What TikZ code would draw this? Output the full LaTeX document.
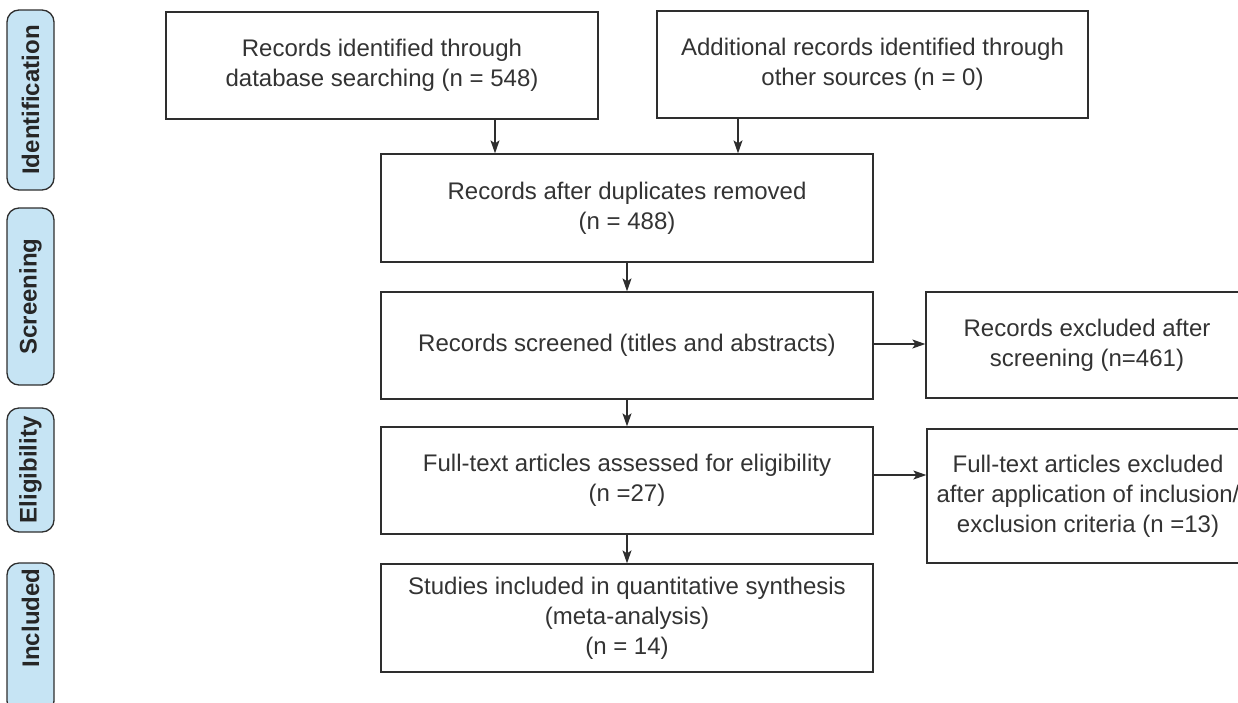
\documentclass[tikz,border=0pt]{standalone}
\usepackage{fontspec}
\setmainfont{Liberation Sans}
\usetikzlibrary{arrows.meta,calc}
\definecolor{lineg}{HTML}{2E2E2E}
\definecolor{textg}{HTML}{333333}
\definecolor{phasebl}{HTML}{C6E4F4}
\begin{document}
\begin{tikzpicture}[x=1pt,y=-1pt,
  box/.style={draw=lineg, line width=1.3pt, inner sep=0pt, align=center, text=textg,
    font=\fontsize{24}{30}\selectfont},
  phasebox/.style={draw=lineg, line width=1.3pt, fill=phasebl, rounded corners=12pt,
    rotate=90, minimum height=47pt, inner sep=0pt},
  phasetext/.style={rotate=90, inner sep=0pt, text=black!85,
    font=\bfseries\fontsize{24}{28}\selectfont},
  arr/.style={draw=lineg, line width=1.2pt, -{Stealth[length=13pt,width=9pt,inset=3pt]}}]
\useasboundingbox (0,0) rectangle (1238,702);

% phase labels
\node[phasebox, minimum width=180pt] (pid) at (30.5,100) {};
\node[phasetext] (tid) at (pid.center) {Identification};
\node[phasebox, minimum width=177pt] (psc) at (30.5,296.5) {};
\node[phasetext] (tsc) at (psc.center) {Screening};
\node[phasebox, minimum width=124pt] (pel) at (30.5,470) {};
\node[phasetext] (tel) at (pel.center) {Eligibility};
\node[phasebox, minimum width=150pt] (pin) at (30.5,638) {};
\node[phasetext] (tin) at (30.5,618) {Included};

% boxes
\node[box, minimum width=432pt, minimum height=107pt] (A) at (382,65.5)
  {Records identified through\\database searching (n = 548)};
\node[box, minimum width=431pt, minimum height=107pt] (B) at (872.5,64.5)
  {Additional records identified through\\other sources (n = 0)};
\node[box, minimum width=492pt, minimum height=108pt] (C) at (627,208)
  {Records after duplicates removed\\(n = 488)};
\node[box, minimum width=492pt, minimum height=107pt] (D) at (627,345.5)
  {Records screened (titles and abstracts)};
\node[box, minimum width=322pt, minimum height=106pt] (E) at (1087,345)
  {Records excluded after\\screening (n=461)};
\node[box, minimum width=492pt, minimum height=107pt] (G) at (627,480.5)
  {Full-text articles assessed for eligibility\\(n =27)};
\node[box, minimum width=322pt, minimum height=134pt] (F) at (1088,496)
  {Full-text articles excluded\\after application of inclusion/\\exclusion criteria (n =13)};
\node[box, minimum width=492pt, minimum height=108pt] (H) at (627,618)
  {Studies included in quantitative synthesis\\(meta-analysis)\\(n = 14)};

% connectors
\draw[arr] ([xshift=113pt]A.south) -- ([xshift=113pt]A.south |- C.north);
\draw[arr] ([xshift=-134.5pt]B.south) -- ([xshift=-134.5pt]B.south |- C.north);
\draw[arr] (C.south) -- (D.north);
\draw[arr] ([yshift=1.5pt]D.east) -- ([yshift=1.5pt]D.east -| E.west);
\draw[arr] (D.south) -- (G.north);
\draw[arr] ([yshift=5.5pt]G.east) -- ([yshift=5.5pt]G.east -| F.west);
\draw[arr] (G.south) -- (H.north);
\end{tikzpicture}
\end{document}
